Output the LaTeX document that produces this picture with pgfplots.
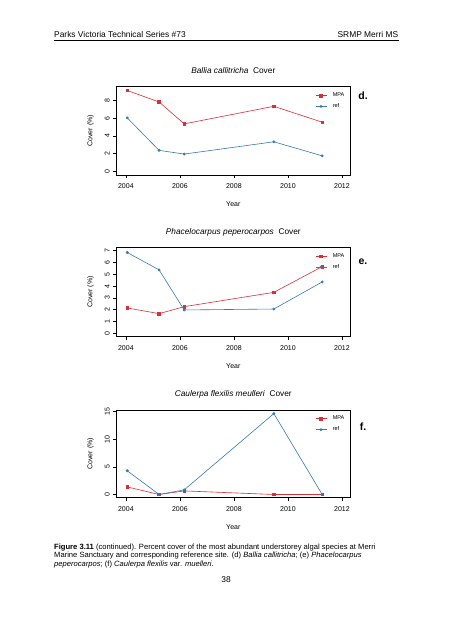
\documentclass[border=0pt]{standalone}
\usepackage{fontspec}
\setmainfont{Liberation Sans}
\usepackage{pgfplots}
\pgfplotsset{compat=1.18}
\definecolor{mpared}{RGB}{215,48,57}
\definecolor{refblue}{RGB}{55,120,184}
\pgfplotsset{
  panel/.style={
    scale only axis, width=233.3pt, anchor=south west,
    xmin=2003.66, xmax=2012.3,
    xtick={2004,2006,2008,2010,2012},
    axis line style={line width=0.8pt},
    tick style={black, line width=0.6pt},
    tick align=outside, major tick length=3.5pt,
    xtick pos=bottom, ytick pos=left,
    /pgf/number format/assume math mode=true,
    /pgf/number format/1000 sep={},
    ticklabel style={font=\fontsize{7}{8}\selectfont},
    xticklabel style={yshift=-1.5pt},
    yticklabel style={rotate=90, anchor=south, xshift=0pt},
    legend style={draw=none, fill=none, at={(rel axis cs:0.85,0.955)}, anchor=north west,
      font=\fontsize{5.5}{6}\selectfont, inner sep=0pt, row sep=1.5pt,
      /tikz/every odd column/.style={column sep=4pt}},
    legend cell align=left,
    legend image code/.code={\draw[mark repeat=2,mark phase=2,##1] plot coordinates {(0pt,0pt)(5.5pt,0pt)(11pt,0pt)};},
  },
  mpa/.style={mpared, line width=0.6pt, mark=square*, mark size=1.3pt},
  refs/.style={refblue, line width=0.6pt, mark=*, mark size=1.1pt},
}
\begin{document}
\begin{tikzpicture}[x=1pt,y=1pt]
\path[fill=white] (0,0) rectangle (452,640);
% header
\node[anchor=base west, inner sep=0pt, font=\fontsize{8.4}{10}\selectfont] at (54,602) {Parks Victoria Technical Series \#73};
\node[anchor=base east, inner sep=0pt, font=\fontsize{8.4}{10}\selectfont] at (398.5,602) {SRMP Merri MS};
\draw[line width=0.8pt] (54,599.7) -- (398.5,599.7);

% panel d
\begin{axis}[panel, at={(116.7pt,465pt)}, height=88.3pt, ymin=-0.42, ymax=9.58, ytick={0,2,4,6,8}]
\addplot[mpa] coordinates {(2004.05,9.15) (2005.23,7.85) (2006.16,5.37) (2009.48,7.36) (2011.27,5.56)};
\addplot[refs] coordinates {(2004.05,6.05) (2005.23,2.37) (2006.16,1.95) (2009.48,3.34) (2011.27,1.75)};
\legend{MPA,ref}
\end{axis}
\node[font=\fontsize{8.3}{9}\selectfont] at (233.3,569) {\textit{Ballia callitricha}\ \ Cover};
\node[rotate=90, font=\fontsize{7}{8}\selectfont] at (90.5,509.2) {Cover (\%)};
\node[font=\fontsize{7}{8}\selectfont] at (233.3,436) {Year};
\node[font=\bfseries\fontsize{10.5}{11}\selectfont] at (363,544) {d.};

% panel e
\begin{axis}[panel, at={(116.7pt,303.3pt)}, height=89.4pt, ymin=-0.28, ymax=7.28, ytick={0,1,...,7}]
\addplot[mpa] coordinates {(2004.05,2.15) (2005.23,1.67) (2006.16,2.26) (2009.48,3.47) (2011.27,5.65)};
\addplot[refs] coordinates {(2004.05,6.84) (2005.23,5.37) (2006.16,1.98) (2009.48,2.06) (2011.27,4.35)};
\legend{MPA,ref}
\end{axis}
\node[font=\fontsize{8.3}{9}\selectfont] at (233.3,408) {\textit{Phacelocarpus peperocarpos}\ \ Cover};
\node[rotate=90, font=\fontsize{7}{8}\selectfont] at (90.5,348) {Cover (\%)};
\node[font=\fontsize{7}{8}\selectfont] at (233.3,274.3) {Year};
\node[font=\bfseries\fontsize{10.5}{11}\selectfont] at (363,378.5) {e.};

% panel f
\begin{axis}[panel, at={(116.7pt,142.3pt)}, height=87.7pt, ymin=-0.58, ymax=15.3, ytick={0,5,10,15}]
\addplot[mpa] coordinates {(2004.05,1.37) (2005.23,0) (2006.16,0.65) (2009.48,0) (2011.27,0)};
\addplot[refs] coordinates {(2004.05,4.3) (2005.23,0) (2006.16,0.84) (2009.48,14.65) (2011.27,0)};
\legend{MPA,ref}
\end{axis}
\node[font=\fontsize{8.3}{9}\selectfont] at (233.3,246) {\textit{Caulerpa flexilis meulleri}\ \ Cover};
\node[rotate=90, font=\fontsize{7}{8}\selectfont] at (90.5,186.2) {Cover (\%)};
\node[font=\fontsize{7}{8}\selectfont] at (233.3,113.3) {Year};
\node[font=\bfseries\fontsize{10.5}{11}\selectfont] at (363,213.5) {f.};

% caption
\begin{scope}[every node/.style={anchor=base west, inner sep=0pt, font=\fontsize{7.6}{9}\selectfont}]
\node at (54,90.5) {\textbf{Figure 3.11} (continued). Percent cover of the most abundant understorey algal species at Merri};
\node at (54,82) {Marine Sanctuary and corresponding reference site. (d) \textit{Ballia callitricha}; (e) \textit{Phacelocarpus}};
\node at (54,73.5) {\textit{peperocarpos}; (f) \textit{Caulerpa flexilis} var. \textit{muelleri}.};
\end{scope}
\node[anchor=base, inner sep=0pt, font=\fontsize{8.4}{10}\selectfont] at (226,57.3) {38};
\end{tikzpicture}
\end{document}
